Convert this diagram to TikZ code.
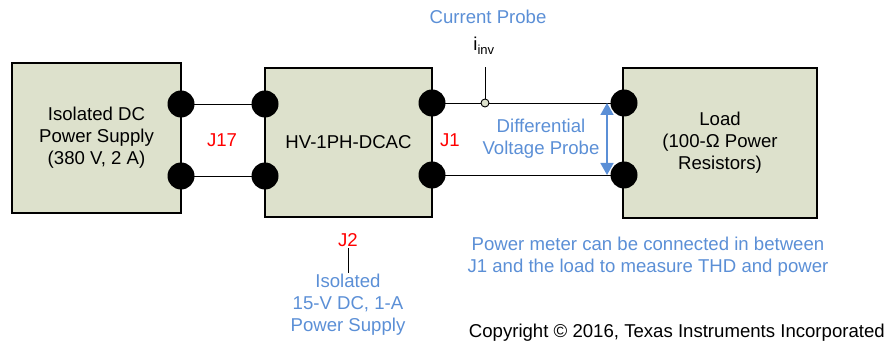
\documentclass[tikz,border=0pt]{standalone}
\usepackage{fontspec}
\setmainfont{Liberation Sans}
\usetikzlibrary{arrows.meta}
\definecolor{boxfill}{HTML}{DDE1CC}
\definecolor{probeblue}{HTML}{5B8FD6}

\begin{document}
\begin{tikzpicture}[x=1pt, y=-1pt]
    % styles
    \tikzstyle{block}=[
      draw,
      line width=1.6pt,
      fill=boxfill,
      rectangle,
      inner sep=0pt,
      align=center,
      font=\fontsize{18.6}{22}\selectfont
    ]
    \tikzstyle{term}=[circle, fill=black, minimum size=27pt, inner sep=0pt]
    \tikzstyle{lbl}=[align=center, inner sep=1pt, font=\fontsize{18.6}{22}\selectfont]
    \tikzstyle{wire}=[line width=0.9pt]

    \useasboundingbox (0,0) rectangle (886,347);

    % Boxes
    \node[block, minimum width=169pt, minimum height=150pt] (psu) at (96.5,138)
      {Isolated DC\\Power Supply\\(380 V, 2 A)};
    \node[block, minimum width=167pt, minimum height=149pt] (inv) at (348.5,142.5)
      {HV-1PH-DCAC};
    \node[block, minimum width=194pt, minimum height=150pt] (load) at (720,143)
      {Load\\(100-Ω Power\\Resistors)};

    % Terminals
    \coordinate (psutop) at (181,104);
    \coordinate (psubot) at (181,176);
    \coordinate (invlt) at (265,104);
    \coordinate (invlb) at (265,176);
    \coordinate (invrt) at (432,103);
    \coordinate (invrb) at (432,175);
    \coordinate (loadt) at (624,103);
    \coordinate (loadb) at (624,175);

    % Current probe point
    \node[circle, draw, wire, fill=boxfill, minimum size=8pt, inner sep=0pt] (cp) at (485,103) {};
    \coordinate (cptop) at (485,67);

    % Wires
    \draw[wire] (psutop) -- (invlt);
    \draw[wire] (psubot) -- (invlb);
    \draw[wire] (invrt) -- (cp) -- (loadt);
    \draw[wire] (invrb) -- (loadb);
    \draw[wire] (cp) -- (cptop);

    \foreach \t in {psutop, psubot, invlt, invlb, invrt, invrb, loadt, loadb}
      \node[term] at (\t) {};

    % Labels
    \node[lbl, text=red] (j17) at (222,140) {J17};
    \node[lbl, text=red] (j1) at (450,140) {J1};
    \node[lbl, text=red] (j2) at (348,240) {J2};
    \node[lbl] (iinv) at (484,46) {i\textsubscript{inv}};
    \node[lbl, text=probeblue] (curprobe) at (488,17) {Current Probe};
    \node[lbl, text=probeblue] (vprobe) at (541,139) {Differential\\Voltage Probe};

    % Differential voltage probe
    \coordinate (va) at (607,103);
    \coordinate (vb) at (607,175);
    \draw[probeblue, line width=1.6pt, {Triangle[length=12pt,width=13pt]}-{Triangle[length=12pt,width=13pt]}] (va) -- (vb);

    % Auxiliary supply
    \node[lbl, text=probeblue] (aux) at (348,305) {Isolated\\15-V DC, 1-A\\Power Supply};
    \draw[wire] (j2) -- (aux);

    % Notes
    \node[lbl, text=probeblue] (note) at (648,257) {Power meter can be connected in between\\J1 and the load to measure THD and power};
    \node[lbl, anchor=east] (copy) at (886,333) {Copyright \textcopyright\ 2016, Texas Instruments Incorporated};
\end{tikzpicture}
\end{document}
